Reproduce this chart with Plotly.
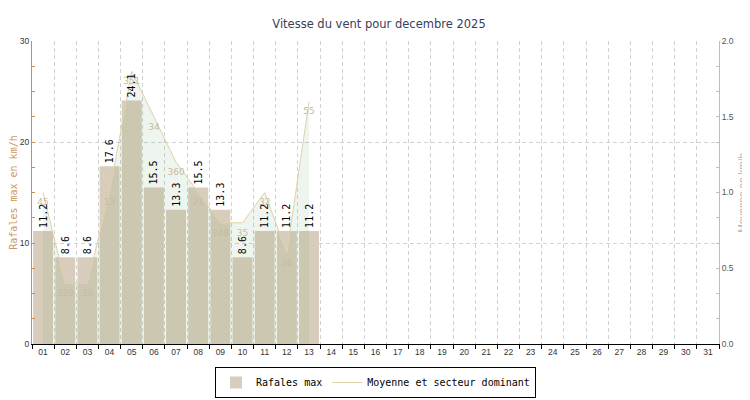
import plotly.graph_objects as go

days = [f"{d:02d}" for d in range(1, 32)]
data_days = days[:13]
gust_max = [11.2, 8.6, 8.6, 17.6, 24.1, 15.5, 13.3, 15.5, 13.3, 8.6, 11.2, 11.2, 11.2]
wind_avg = [1.0, 0.4, 0.4, 1.0, 1.8, 1.5, 1.2, 1.0, 0.8, 0.8, 1.0, 0.6, 1.6]
wind_dir = ["45", "339", "38", "13", "351", "34", "360", "21", "348", "35", "32", "36", "55"]
gust_labels = [f"{v:.1f}" for v in gust_max]

TAN = "#d8ccbc"
OFF = 8  # default page body margin
W, H = 750 - OFF, 400 - OFF
L, R, T, B = 32 - OFF, 31, 41 - OFF, 56
PW = W - L - R
PH = H - T - B

fig = go.Figure()

fig.add_trace(go.Bar(
    x=data_days, y=gust_max, name="Rafales max",
    marker=dict(color=TAN, line=dict(width=0)),
    yaxis="y", showlegend=True,
))

fig.add_trace(go.Scatter(
    x=data_days, y=wind_avg, mode="lines", fill="tozeroy",
    fillcolor="rgba(85,155,85,0.10)", line=dict(width=0, color="rgba(0,0,0,0)"),
    yaxis="y2", showlegend=False, hoverinfo="skip",
))

fig.add_trace(go.Scatter(
    x=data_days, y=wind_avg, mode="lines+markers+text", text=wind_dir,
    textposition="bottom center",
    marker=dict(size=8, color="rgba(0,0,0,0)"),
    textfont=dict(family="DejaVu Sans", size=9, color="#c9bb9f"),
    line=dict(width=1, color="#e0d2aa"),
    name="Moyenne et secteur dominant", yaxis="y2", cliponaxis=False,
))

fig.add_trace(go.Bar(
    x=data_days, y=gust_max, text=gust_labels, textposition="outside",
    textangle=-90, constraintext="none",
    textfont=dict(family="DejaVu Sans Mono", size=10, color="black"),
    marker=dict(color="rgba(0,0,0,0)", line=dict(width=0)),
    yaxis="y3", showlegend=False, cliponaxis=False, hoverinfo="skip",
))

fig.add_annotation(
    text="Moyenne en km/h", textangle=-90, showarrow=False,
    xref="paper", yref="paper", x=(742 - OFF - L) / PW, y=0.5,
    xanchor="center", yanchor="middle",
    font=dict(family="Liberation Sans", size=10, color="#b8b0a0"),
)

GRID_DASH = "4px,3px"

fig.update_layout(
    width=W, height=H,
    margin=dict(l=L, r=R, t=T, b=B, autoexpand=False),
    paper_bgcolor="white", plot_bgcolor="white",
    barmode="overlay", bargap=0.1,
    title=dict(text="Vitesse du vent pour decembre 2025", x=0.5, xanchor="center",
               y=1 - (24 - OFF) / H, yanchor="middle",
               font=dict(family="DejaVu Sans", size=11.5, color="#39405a")),
    xaxis=dict(
        type="category", categoryorder="array", categoryarray=days,
        range=[-0.5, 30.5], tickson="boundaries", ticks="outside", ticklen=4,
        tickcolor="black", showline=True, linecolor="black", linewidth=1,
        showgrid=True, gridcolor="#d2d2d2", griddash=GRID_DASH, gridwidth=1,
        tickfont=dict(family="Liberation Sans", size=8.5, color="#333"),
        zeroline=False, fixedrange=True, automargin=False,
    ),
    yaxis=dict(
        range=[0, 30], dtick=10, tick0=0, ticks="inside", ticklen=3,
        tickcolor="#cc9148", showline=True, linecolor="#cc9148", linewidth=1,
        showgrid=True, gridcolor="#d2d2d2", griddash=GRID_DASH, zeroline=False,
        minor=dict(dtick=2.5, ticks="inside", ticklen=3, tickcolor="#cc9148", showgrid=False),
        tickfont=dict(family="Liberation Sans", size=8.5, color="#333"),
        automargin=False,
        title=dict(text="Rafales max en km/h", standoff=7,
                   font=dict(family="DejaVu Sans Mono", size=10, color="#c89a62")),
    ),
    yaxis2=dict(
        range=[0, 2], dtick=0.5, tick0=0, tickformat=".1f", overlaying="y", side="right",
        ticks="inside", ticklen=3, tickcolor="#c8bca8", showline=True,
        linecolor="#c8bca8", linewidth=1, showgrid=False, zeroline=False,
        minor=dict(dtick=2 / 12, ticks="inside", ticklen=3, tickcolor="#c8bca8", showgrid=False),
        tickfont=dict(family="Liberation Sans", size=8.5, color="#555"),
        automargin=False,
    ),
    yaxis3=dict(range=[0, 30], overlaying="y", visible=False),
    legend=dict(
        orientation="h", x=0.5, xanchor="center", y=-(367 - 344) / PH, yanchor="top",
        bordercolor="black", borderwidth=1, bgcolor="white",
        font=dict(family="DejaVu Sans Mono", size=10, color="black"),
        itemwidth=30,
    ),
)

fig.write_html("out.html")
